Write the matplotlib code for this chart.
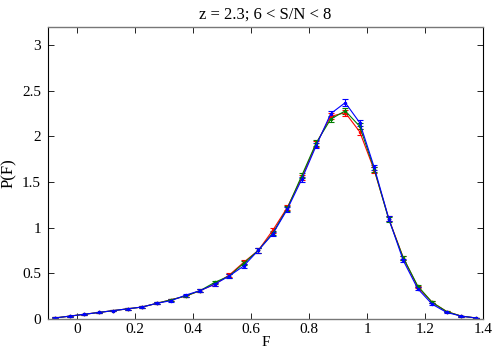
import matplotlib
matplotlib.use("Agg")
import matplotlib.pyplot as plt
import numpy as np

plt.rcParams['font.family'] = ['Liberation Serif', 'DejaVu Serif']
plt.rcParams['mathtext.fontset'] = 'stix'

F = [-0.075, -0.025, 0.025, 0.075, 0.125, 0.175, 0.225, 0.275, 0.325, 0.375,
     0.425, 0.475, 0.525, 0.575, 0.625, 0.675, 0.725, 0.775, 0.825, 0.875,
     0.925, 0.975, 1.025, 1.075, 1.125, 1.175, 1.225, 1.275, 1.325, 1.375]

p_red = [0.01, 0.03, 0.05, 0.07, 0.09, 0.11, 0.13, 0.17, 0.21, 0.25,
         0.31, 0.38, 0.48, 0.62, 0.75, 0.97, 1.22, 1.55, 1.92, 2.22,
         2.26, 2.05, 1.63, 1.10, 0.67, 0.35, 0.18, 0.08, 0.03, 0.01]
p_green = [0.01, 0.03, 0.05, 0.07, 0.09, 0.11, 0.13, 0.17, 0.21, 0.25,
           0.31, 0.40, 0.47, 0.61, 0.75, 0.94, 1.21, 1.57, 1.93, 2.19,
           2.28, 2.11, 1.64, 1.09, 0.67, 0.36, 0.18, 0.08, 0.03, 0.01]
p_blue = [0.01, 0.03, 0.05, 0.07, 0.09, 0.11, 0.13, 0.17, 0.20, 0.26,
          0.31, 0.38, 0.47, 0.58, 0.75, 0.93, 1.20, 1.53, 1.90, 2.25,
          2.37, 2.15, 1.66, 1.10, 0.64, 0.33, 0.16, 0.07, 0.03, 0.01]

err_red = [0.005, 0.005, 0.006, 0.007, 0.008, 0.009, 0.01, 0.012, 0.013, 0.015,
           0.016, 0.018, 0.02, 0.022, 0.024, 0.026, 0.028, 0.03, 0.032, 0.034,
           0.035, 0.034, 0.03, 0.025, 0.02, 0.015, 0.011, 0.008, 0.005, 0.004]
err_green = err_red
err_blue = err_red

xticks = [0, 0.2, 0.4, 0.6, 0.8, 1, 1.2, 1.4]
xticklabels = ['0', '0.2', '0.4', '0.6', '0.8', '1', '1.2', '1.4']
yticks = [0, 0.5, 1, 1.5, 2, 2.5, 3]
yticklabels = ['0', '0.5', '1', '1.5', '2', '2.5', '3']

fig = plt.figure(figsize=(5, 3.5), dpi=100)
ax = fig.add_axes([0.096, 0.089, 0.870, 0.834])

for vals, err, col in [(p_red, err_red, '#ff0000'),
                       (p_green, err_green, '#007f00'),
                       (p_blue, err_blue, '#0000ff')]:
    ax.errorbar(F, vals, yerr=err, color=col, lw=0.8, elinewidth=0.8,
                capsize=2, capthick=0.8, marker='.', ms=3)

ax.set_xlim(-0.1, 1.4)
ax.set_ylim(0, 3.2)
ax.set_xticks(xticks)
ax.set_xticklabels(xticklabels)
ax.set_yticks(yticks)
ax.set_yticklabels(yticklabels)
ax.tick_params(direction='in', top=True, right=True, labelsize=11, length=4,
               width=0.6)
ax.tick_params(axis='x', pad=3)
ax.tick_params(axis='y', pad=5)
for s in ['left', 'right']:
    ax.spines[s].set_color('black')
    ax.spines[s].set_linewidth(0.8)
for s in ['top', 'bottom']:
    ax.spines[s].set_color('#777777')
    ax.spines[s].set_linewidth(1.0)

ax.set_xlabel('F', fontsize=11, labelpad=0)
ax.set_ylabel('P(F)', fontsize=12, labelpad=4)
ax.set_title('z = 2.3; 6 < S/N < 8', fontsize=12, pad=6)

fig.savefig('out.png', dpi=100)
